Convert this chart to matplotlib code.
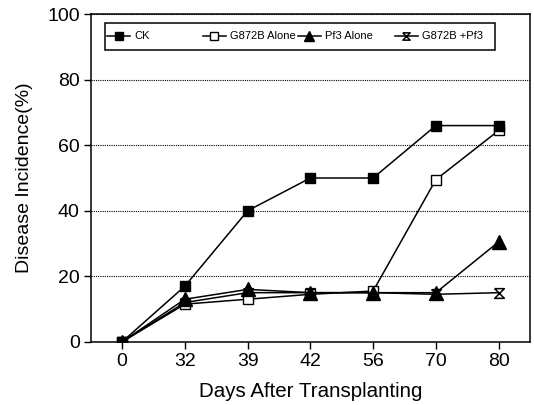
import matplotlib
matplotlib.use('Agg')
from matplotlib import pyplot as plt
from matplotlib.path import Path
from matplotlib.legend import Legend
from matplotlib import patches
import numpy as np

# data
days = ['0', '32', '39', '42', '56', '70', '80']
ck = [0, 17, 40, 50, 50, 66, 66]
g872b_alone = [0, 11.5, 13, 14.5, 15.5, 49.5, 64.5]
pf3_alone = [0, 13, 16, 15, 15, 15, 30.5]
g872b_pf3 = [0, 12, 15, 15, 15, 14.5, 15]

labels = ['CK', 'G872B Alone', 'Pf3 Alone', 'G872B +Pf3']

plt.rcParams['font.family'] = ['Liberation Sans', 'DejaVu Sans']

# hourglass marker: X with top and bottom bars
hourglass = Path([(-1, 1), (1, 1), (-1, -1), (1, -1), (-1, 1)],
                 [Path.MOVETO, Path.LINETO, Path.LINETO, Path.LINETO, Path.LINETO])

fig = plt.figure(figsize=(5.34, 4.05), dpi=100)
ax = fig.add_axes([0.170, 0.156, 0.8225, 0.809])

x = np.arange(len(days))
lines = []
lines += ax.plot(x, ck, color='black', lw=1.1, marker='s', ms=7, mfc='black', zorder=4)
lines += ax.plot(x, g872b_alone, color='black', lw=1.1, marker='s', ms=7, mfc='white', zorder=3)
lines += ax.plot(x, pf3_alone, color='black', lw=1.1, marker='^', ms=10, mfc='black', zorder=5)
lines += ax.plot(x, g872b_pf3, color='black', lw=1.1, marker=hourglass, ms=7, mfc='none', mew=1.1, zorder=2)

ax.set_xlim(-0.5, len(days) - 0.5)
ax.set_ylim(0, 100)
ax.set_xticks(x)
ax.set_xticklabels(days)
ax.set_yticks([0, 20, 40, 60, 80, 100])
ax.tick_params(direction='out', length=5, width=1, labelsize=14, pad=3)

ax.yaxis.grid(True, ls=(0, (1, 1)), color='black', lw=0.8)
ax.set_axisbelow(True)
for s in ax.spines.values():
    s.set_linewidth(1.1)

ax.set_xlabel('Days After Transplanting', fontsize=14.8, labelpad=9)
ax.set_ylabel('Disease Incidence(%)', fontsize=14, labelpad=10)

# legend: one frame, entries placed like the original
ax.add_patch(patches.Rectangle((0.032, 0.890), 0.888, 0.083, transform=ax.transAxes,
                               fill=True, facecolor='white', edgecolor='black', lw=1.1, zorder=6))
xs = [0.037, 0.255, 0.471, 0.692]
for h, lab, xx in zip(lines, labels, xs):
    lg = Legend(ax, [h], [lab], loc='center left', bbox_to_anchor=(xx, 0.932), frameon=False,
                borderpad=0, borderaxespad=0, handlelength=2.1, handletextpad=0.35,
                markerscale=0.75, prop={'size': 8})
    lg.set_zorder(7)
    ax.add_artist(lg)

fig.savefig('out.png', dpi=100)
